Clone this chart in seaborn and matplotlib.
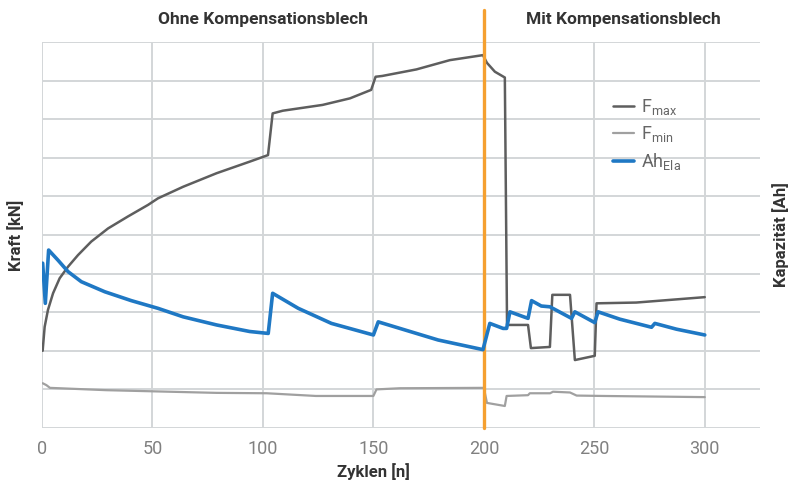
"""Kraft- und Kapazitätsverlauf über Zyklen, mit/ohne Kompensationsblech."""

import matplotlib

matplotlib.use("Agg")
import matplotlib.pyplot as plt
import matplotlib.transforms as mtransforms
import seaborn as sns

# F_max (dark gray)
fmax_x = [0.3, 0.45, 1.2, 2.7, 5, 8, 11.8, 16.3, 22.3, 29.9, 38.9, 48, 52.5,
          63.9, 79, 94, 102.3,
          104.4, 109, 127, 139.4, 149, 151, 154, 169.5, 184.6, 199.6, 201.4, 205, 209.5,
          210.5, 220, 221.3, 229.9, 231, 239, 241.2, 250.2, 251, 269, 300]
fmax_y = [2.0, 2.11, 2.62, 3.06, 3.49, 3.88, 4.18, 4.48, 4.83, 5.17, 5.48, 5.78, 5.95,
          6.25, 6.6, 6.9, 7.07,
          8.15, 8.22, 8.37, 8.54, 8.76, 9.1, 9.12, 9.29, 9.53, 9.66, 9.46, 9.23, 9.08,
          2.67, 2.67, 2.07, 2.1, 3.45, 3.45, 1.76, 1.87, 3.23, 3.25, 3.39]

# F_min (light gray)
fmin_x = [0.3, 2, 3.6, 29, 79, 101.7, 124, 150, 151.4, 162, 200,
          201.4, 209.5, 210.3, 220, 220.8, 230, 231.3, 239, 242, 254, 300]
fmin_y = [1.16, 1.11, 1.04, 0.98, 0.91, 0.9, 0.83, 0.83, 1.0, 1.03, 1.04,
          0.65, 0.57, 0.83, 0.85, 0.9, 0.9, 0.94, 0.92, 0.84, 0.83, 0.8]

# Ah_Ela (blue)
ah_x = [0.3, 1.5, 3, 7.2, 11.8, 17.8, 28.4, 40.4, 52.5, 63.9, 79, 94, 102.4,
        104.4, 116, 131, 150, 152.2, 164.3, 179.3, 199.6,
        202.7, 208.7, 210.3, 211.8, 220, 221.6, 226, 229.9, 239.7, 241.2,
        250.2, 251.7, 261.5, 275.9, 277.4, 287.2, 300]
ah_y = [4.27, 3.23, 4.61, 4.35, 4.05, 3.79, 3.53, 3.3, 3.1, 2.88, 2.67, 2.5, 2.45,
        3.49, 3.1, 2.71, 2.41, 2.75, 2.54, 2.28, 2.03,
        2.71, 2.58, 2.58, 3.01, 2.84, 3.3, 3.16, 3.14, 2.84, 3.01,
        2.73, 3.01, 2.82, 2.61, 2.71, 2.56, 2.41]

x_ticks = [0, 50, 100, 150, 200, 250, 300]
switch_cycle = 200
phase_labels = ["Ohne Kompensationsblech", "Mit Kompensationsblech"]
phase_centers = [100, 263]

sns.set_theme(style="whitegrid")
plt.rcParams["font.family"] = ["Roboto", "DejaVu Sans"]
plt.rcParams["mathtext.fontset"] = "custom"
plt.rcParams["mathtext.rm"] = "Roboto"

fig = plt.figure(figsize=(7.92, 4.88), dpi=100)
ax = fig.add_axes([42 / 792, 60 / 488, 718 / 792, 386 / 488])
ax2 = ax.twinx()

grid_color = "#d3d6d8"
for a in (ax, ax2):
    a.set_xlim(0, 325)
    a.set_ylim(0, 10)
    for s in a.spines.values():
        s.set_visible(False)
ax2.grid(False)

ax.set_xticks(x_ticks)
ax.set_yticks(range(11))
ax.set_yticklabels([])
ax2.set_yticks([])
ax.grid(True, color=grid_color, lw=1.4)
ax.tick_params(axis="x", length=0, pad=9, labelsize=13, labelcolor="#808080")
ax.tick_params(axis="y", length=0)

sns.lineplot(x=fmax_x, y=fmax_y, ax=ax, sort=False, estimator=None,
             color="#5e5e5e", lw=1.8, label=r"F$_{\rm max}$")
sns.lineplot(x=fmin_x, y=fmin_y, ax=ax, sort=False, estimator=None,
             color="#a0a0a0", lw=1.6, label=r"F$_{\rm min}$")
sns.lineplot(x=ah_x, y=ah_y, ax=ax2, sort=False, estimator=None,
             color="#1f78c4", lw=2.6, label=r"Ah$_{\rm Ela}$")

ax.axvline(switch_cycle, ymin=0, ymax=1.083, color="#f5a030", lw=2.4,
           clip_on=False, zorder=5)

trans = mtransforms.blended_transform_factory(ax.transData, ax.transAxes)
for label, cx in zip(phase_labels, phase_centers):
    ax.text(cx, 1.057, label, transform=trans, ha="center", va="center",
            fontsize=12.5, fontweight="bold", color="#333333")

ax.set_xlabel("Zyklen [n]", fontsize=12, fontweight="bold", color="#333333")
ax.xaxis.set_label_coords(0.461, -0.09)
ax.set_ylabel("")
ax2.set_ylabel("")
fig.text(16 / 792, 1 - 235 / 488, "Kraft [kN]", rotation=90, ha="center", va="center",
         fontsize=12, fontweight="bold", color="#333333")
fig.text(781 / 792, 1 - 235 / 488, "Kapazität [Ah]", rotation=90, ha="center", va="center",
         fontsize=12, fontweight="bold", color="#333333")

# merge legends of both axes
h1, l1 = ax.get_legend_handles_labels()
h2, l2 = ax2.get_legend_handles_labels()
if ax2.get_legend():
    ax2.get_legend().remove()
leg = ax.legend(h1 + h2, l1 + l2, loc="upper left", bbox_to_anchor=(0.772, 0.9),
                frameon=False, fontsize=13, handlelength=1.2, handletextpad=0.4,
                labelspacing=0.4, labelcolor="#666666")

fig.savefig("out.png", dpi=100)
